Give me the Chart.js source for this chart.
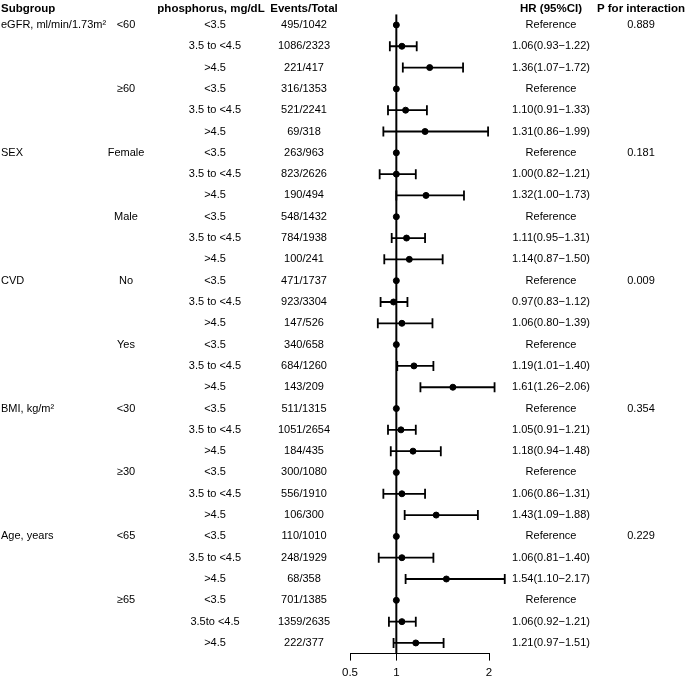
<!DOCTYPE html>
<html>
<head>
<meta charset="UTF-8">
<title>Forest plot</title>
<script src="https://cdn.jsdelivr.net/npm/chart.js"></script>
<style>
    body { margin: 0; background: #fff; }
    #wrap { width: 685px; height: 677px; }
</style>
</head>
<body>
<div id="wrap"><canvas id="forest" width="685" height="677"></canvas></div>
<script>
// one entry per subgroup variable (6 rows each)
const groups = ["eGFR, ml/min/1.73m²", "SEX", "CVD", "BMI, kg/m²", "Age, years"];
const pInteraction = ["0.889", "0.181", "0.009", "0.354", "0.229"];
// one entry per level (3 rows each)
const levels = ["<60", "≥60", "Female", "Male", "No", "Yes", "<30", "≥30", "<65", "≥65"];
// one entry per row
const phosphorus = [
    "<3.5", "3.5 to <4.5", ">4.5", "<3.5", "3.5 to <4.5", ">4.5",
    "<3.5", "3.5 to <4.5", ">4.5", "<3.5", "3.5 to <4.5", ">4.5",
    "<3.5", "3.5 to <4.5", ">4.5", "<3.5", "3.5 to <4.5", ">4.5",
    "<3.5", "3.5 to <4.5", ">4.5", "<3.5", "3.5 to <4.5", ">4.5",
    "<3.5", "3.5 to <4.5", ">4.5", "<3.5", "3.5to <4.5", ">4.5"
];
const events = [
    "495/1042", "1086/2323", "221/417", "316/1353", "521/2241", "69/318",
    "263/963", "823/2626", "190/494", "548/1432", "784/1938", "100/241",
    "471/1737", "923/3304", "147/526", "340/658", "684/1260", "143/209",
    "511/1315", "1051/2654", "184/435", "300/1080", "556/1910", "106/300",
    "110/1010", "248/1929", "68/358", "701/1385", "1359/2635", "222/377"
];
const hr = [
    1, 1.06, 1.36, 1, 1.10, 1.31,
    1, 1.00, 1.32, 1, 1.11, 1.14,
    1, 0.97, 1.06, 1, 1.19, 1.61,
    1, 1.05, 1.18, 1, 1.06, 1.43,
    1, 1.06, 1.54, 1, 1.06, 1.21
];
const lower = [
    null, 0.93, 1.07, null, 0.91, 0.86,
    null, 0.82, 1.00, null, 0.95, 0.87,
    null, 0.83, 0.80, null, 1.01, 1.26,
    null, 0.91, 0.94, null, 0.86, 1.09,
    null, 0.81, 1.10, null, 0.92, 0.97
];
const upper = [
    null, 1.22, 1.72, null, 1.33, 1.99,
    null, 1.21, 1.73, null, 1.31, 1.50,
    null, 1.12, 1.39, null, 1.40, 2.06,
    null, 1.21, 1.48, null, 1.31, 1.88,
    null, 1.40, 2.17, null, 1.21, 1.51
];
const xTicks = [0.5, 1, 2];

const FONT = '"Liberation Sans", Arial, sans-serif';

const ciPlugin = {
    id: "ciBars",
    afterDatasetsDraw(chart) {
        const ctx = chart.ctx, xs = chart.scales.x, ys = chart.scales.y;
        ctx.save();
        ctx.strokeStyle = "#000";
        ctx.lineWidth = 1.8;
        hr.forEach((v, i) => {
            if (lower[i] == null) return;
            const y = ys.getPixelForValue(i);
            const x1 = xs.getPixelForValue(lower[i]);
            const x2 = xs.getPixelForValue(upper[i]);
            ctx.beginPath();
            ctx.moveTo(x1, y); ctx.lineTo(x2, y);
            ctx.moveTo(x1, y - 5); ctx.lineTo(x1, y + 5);
            ctx.moveTo(x2, y - 5); ctx.lineTo(x2, y + 5);
            ctx.stroke();
        });
        ctx.restore();
    }
};

const textPlugin = {
    id: "columns",
    afterDraw(chart) {
        const ctx = chart.ctx, ys = chart.scales.y;
        ctx.save();
        ctx.fillStyle = "#000";
        ctx.textBaseline = "middle";

        const hy = ys.getPixelForValue(-0.75);
        ctx.font = "bold 11.5px " + FONT;
        ctx.textAlign = "left";
        ctx.fillText("Subgroup", 1, hy);
        ctx.textAlign = "center";
        ctx.fillText("phosphorus, mg/dL", 211, hy);
        ctx.fillText("Events/Total", 304, hy);
        ctx.fillText("HR (95%CI)", 551, hy);
        ctx.fillText("P for interaction", 641, hy);

        ctx.font = "11px " + FONT;
        phosphorus.forEach((p, i) => {
            const y = ys.getPixelForValue(i);
            if (i % 6 === 0) {
                ctx.textAlign = "left";
                ctx.fillText(groups[i / 6], 1, y);
                ctx.textAlign = "center";
                ctx.fillText(pInteraction[i / 6], 641, y);
            }
            ctx.textAlign = "center";
            if (i % 3 === 0) ctx.fillText(levels[i / 3], 126, y);
            ctx.fillText(p, 215, y);
            ctx.fillText(events[i], 304, y);
            const hrText = lower[i] == null ? "Reference"
                : hr[i].toFixed(2) + "(" + lower[i].toFixed(2) + "\u2212" + upper[i].toFixed(2) + ")";
            ctx.fillText(hrText, 551, y);
        });
        ctx.restore();
    }
};

new Chart(document.getElementById("forest"), {
    type: "scatter",
    data: {
        datasets: [
            {
                data: [{ x: 1, y: -0.5 }, { x: 1, y: 29.5 }],
                showLine: true,
                borderColor: "#000",
                borderWidth: 2,
                pointRadius: 0
            },
            {
                data: hr.map((v, i) => ({ x: v, y: i })),
                backgroundColor: "#000",
                borderColor: "#000",
                pointRadius: 3
            }
        ]
    },
    options: {
        responsive: false,
        animation: false,
        events: [],
        layout: { padding: { left: 350, right: 196, top: 14.3, bottom: 0 } },
        plugins: { legend: { display: false }, tooltip: { enabled: false } },
        scales: {
            x: {
                type: "linear",
                min: 0.5,
                max: 2,
                afterBuildTicks: s => { s.ticks = xTicks.map(v => ({ value: v })); },
                afterFit: s => { s.height = 23.4; },
                ticks: { color: "#000", font: { size: 11.5, family: FONT }, padding: 5, callback: v => String(v) },
                grid: { drawOnChartArea: false, drawTicks: true, tickLength: 7, color: "#000" },
                border: { color: "#000", width: 1 }
            },
            y: {
                type: "linear",
                reverse: true,
                min: -0.5,
                max: 29.5,
                display: false
            }
        }
    },
    plugins: [ciPlugin, textPlugin]
});
</script>
</body>
</html>
